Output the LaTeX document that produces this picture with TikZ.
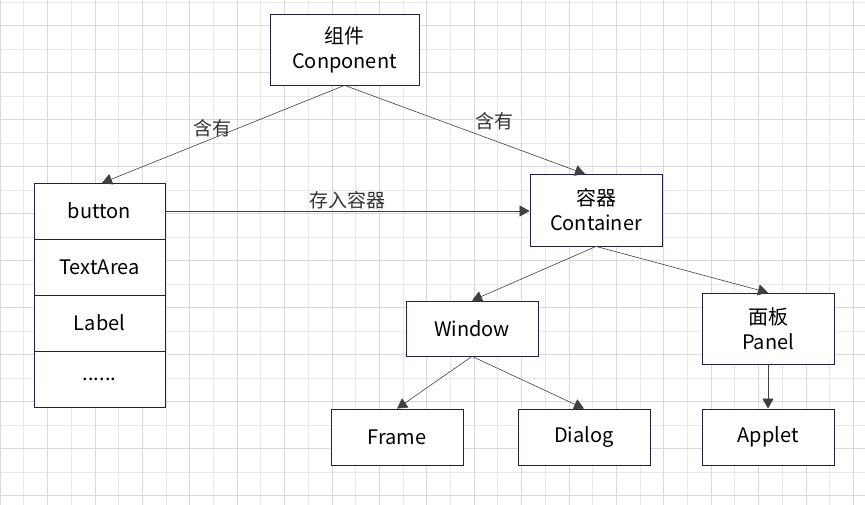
\documentclass[tikz,border=0pt]{standalone}
\usepackage{fontspec}
\setmainfont{Noto Sans CJK SC}
\usetikzlibrary{arrows.meta}
\definecolor{bd}{HTML}{1F1F4F}
\begin{document}
\begin{tikzpicture}[x=1pt,y=-1pt,
 box/.style={draw=bd,line width=0.8pt,fill=white,inner sep=0pt,align=center,font=\fontsize{20}{25}\selectfont},
 arr/.style={draw=black!75,line width=0.6pt,-{Triangle[length=10pt,width=11pt]}},
 lab/.style={font=\fontsize{19}{22}\selectfont,text=black!80}]
\useasboundingbox (0,0) rectangle (865,505);
\foreach \i in {0,...,37}{\draw[black!9,line width=0.6pt] (\i*23.7,0)--(\i*23.7,505);}
\foreach \i in {0,...,21}{\draw[black!9,line width=0.6pt] (0,2+\i*23.5)--(865,2+\i*23.5);}
\foreach \i in {0,...,18}{\draw[black!15,line width=0.6pt] (\i*47.4,0)--(\i*47.4,505);}
\foreach \i in {0,...,10}{\draw[black!15,line width=0.6pt] (0,25.5+\i*47)--(865,25.5+\i*47);}
\node[box,minimum width=149pt,minimum height=71pt] (comp) at (344.5,49.5) {组件\\Conponent};
\node[box,minimum width=131pt,minimum height=56pt] (btn) at (99.5,211) {button};
\node[box,minimum width=131pt,minimum height=56pt] (ta) at (99.5,267) {TextArea};
\node[box,minimum width=131pt,minimum height=56pt] (lbl) at (99.5,323) {Label};
\node[box,minimum width=131pt,minimum height=56pt] (dots) at (99.5,379) {......};
\node[box,minimum width=132pt,minimum height=72pt] (cont) at (596,210) {容器\\Container};
\node[box,minimum width=132pt,minimum height=55pt] (win) at (472,328.5) {Window};
\node[box,minimum width=132pt,minimum height=71pt] (pan) at (768,328.5) {面板\\Panel};
\node[box,minimum width=132pt,minimum height=56pt] (frm) at (397,437) {Frame};
\node[box,minimum width=132pt,minimum height=56pt] (dlg) at (584,437) {Dialog};
\node[box,minimum width=132pt,minimum height=56pt] (app) at (768,437) {Applet};
\coordinate (bt) at (102,183);
\coordinate (ct) at (585,174);
\draw[arr] (comp.south) -- (bt);
\draw[arr] (comp.south) -- (ct);
\node[lab] (l1) at (212,128) {含有};
\node[lab] (l2) at (494,121) {含有};
\draw[arr] (btn.east) -- (cont.west|-btn.east) node[lab,midway,above=-2pt] {存入容器};
\draw[arr] (cont.south) -- (win.north);
\draw[arr] (cont.south) -- (pan.north);
\draw[arr] (win.south) -- (frm.north);
\draw[arr] (win.south) -- (dlg.north);
\draw[arr] (pan.south) -- (app.north);
\end{tikzpicture}
\end{document}
